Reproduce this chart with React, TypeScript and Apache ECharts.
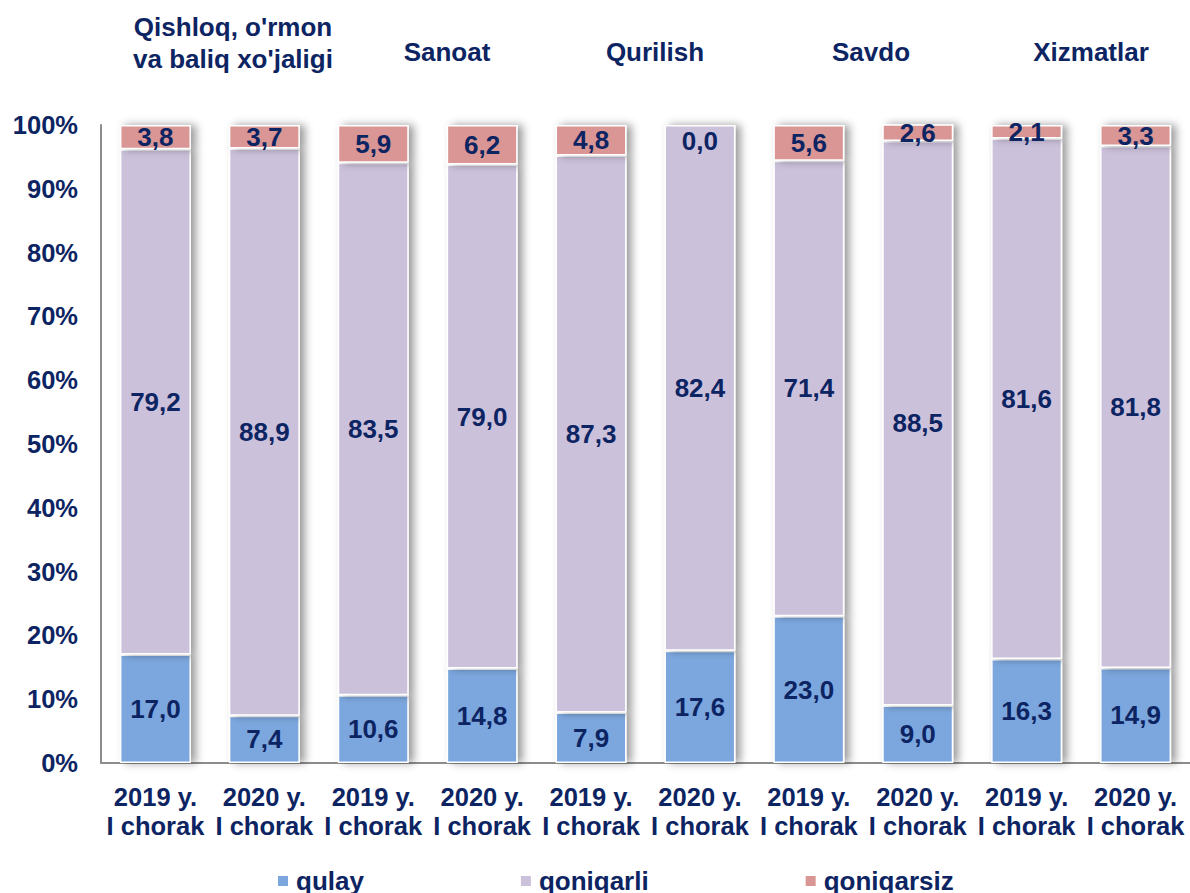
import React, { useEffect, useRef } from "react";
import * as echarts from "echarts";

const categories = [
  "2019 y.\nI chorak", "2020 y.\nI chorak",
  "2019 y.\nI chorak", "2020 y.\nI chorak",
  "2019 y.\nI chorak", "2020 y.\nI chorak",
  "2019 y.\nI chorak", "2020 y.\nI chorak",
  "2019 y.\nI chorak", "2020 y.\nI chorak",
];
const groups = ["Qishloq, o'rmon\nva baliq xo'jaligi", "Sanoat", "Qurilish", "Savdo", "Xizmatlar"];
const qulay = [17.0, 7.4, 10.6, 14.8, 7.9, 17.6, 23.0, 9.0, 16.3, 14.9];
const qoniqarli = [79.2, 88.9, 83.5, 79.0, 87.3, 82.4, 71.4, 88.5, 81.6, 81.8];
const qoniqarsiz = [3.8, 3.7, 5.9, 6.2, 4.8, 0.0, 5.6, 2.6, 2.1, 3.3];
const seriesNames = ["qulay", "qoniqarli", "qoniqarsiz"];

const NAVY = "#0D2463";
const FONT = "'Liberation Sans', Arial, sans-serif";
const COLORS = ["#7BA7DE", "#CCC1DB", "#D99694"];

export default function App() {
  const ref = useRef<HTMLDivElement>(null);
  useEffect(() => {
    if (!ref.current) return;
    const chart = echarts.init(ref.current, undefined, { renderer: "svg" });
    const fmt = (p: any) => Number(p.value).toFixed(1).replace(".", ",");
    const mkSeries = (name: string, values: number[], color: string) => ({
      name,
      type: "bar",
      stack: "total",
      barWidth: 71,
      data: values.map((v) => (v === 0 ? { value: v, label: { offset: [0, 16] } } : v)),
      itemStyle: {
        color,
        borderColor: "#ffffff",
        borderWidth: 1.5,
        shadowColor: "rgba(0,0,0,0.4)",
        shadowBlur: 8,
        shadowOffsetX: 5,
        shadowOffsetY: 0,
      },
      label: {
        show: true,
        position: "inside",
        formatter: fmt,
        color: NAVY,
        fontSize: 26,
        fontWeight: "bold",
        fontFamily: FONT,
      },
    });
    const headerX = [233, 447, 655, 871, 1091];
    const headerY = [43, 52, 52, 52, 52];
    chart.setOption({
      animation: false,
      grid: { left: 101, right: -11, top: 125, bottom: 130 },
      legend: {
        left: 271,
        top: 863,
        itemWidth: 12,
        itemHeight: 12,
        itemGap: 155,
        icon: "rect",
        data: seriesNames,
        textStyle: { color: NAVY, fontSize: 26, fontWeight: "bold", fontFamily: FONT, padding: [0, 0, 0, 2] },
      },
      xAxis: {
        type: "category",
        data: categories,
        axisLine: { show: true, lineStyle: { color: "#8C8C8C", width: 2 } },
        axisTick: { show: false },
        axisLabel: {
          interval: 0,
          margin: 19,
          color: NAVY,
          fontSize: 25.5,
          fontWeight: "bold",
          fontFamily: FONT,
          lineHeight: 29,
        },
      },
      yAxis: {
        type: "value",
        min: 0,
        max: 100,
        interval: 10,
        splitLine: { show: false },
        axisLine: { show: true, lineStyle: { color: "#8C8C8C", width: 2 } },
        axisTick: { show: false },
        axisLabel: {
          formatter: "{value}%",
          margin: 23,
          color: NAVY,
          fontSize: 25.5,
          fontWeight: "bold",
          fontFamily: FONT,
        },
      },
      graphic: groups.map((g, i) => ({
        type: "text",
        x: headerX[i],
        y: headerY[i],
        style: {
          text: g,
          fill: NAVY,
          fontSize: 26,
          fontWeight: "bold",
          fontFamily: FONT,
          lineHeight: 32,
          textAlign: "center",
          textVerticalAlign: "middle",
        },
      })),
      series: [
        mkSeries(seriesNames[0], qulay, COLORS[0]),
        mkSeries(seriesNames[1], qoniqarli, COLORS[1]),
        mkSeries(seriesNames[2], qoniqarsiz, COLORS[2]),
      ],
    });
    return () => chart.dispose();
  }, []);
  return (
    <div
      ref={ref}
      style={{ position: "fixed", left: 0, top: 0, width: 1190, height: 893, background: "#fff" }}
    />
  );
}
